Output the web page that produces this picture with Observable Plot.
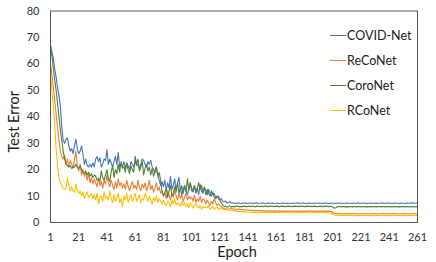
<!DOCTYPE html>
<html>
<head>
<meta charset="utf-8">
<script src="https://cdn.jsdelivr.net/npm/d3@7"></script>
<script src="https://cdn.jsdelivr.net/npm/@observablehq/plot@0.6"></script>
<style>
  html, body { margin: 0; padding: 0; background: #fff; }
  #wrap { position: relative; width: 436px; height: 262px; font-family: Lato, "Open Sans", sans-serif; }
  #legend { position: absolute; left: 330px; top: 23px; font-size: 12.5px; color: #222; }
  .row { display: flex; align-items: center; height: 25px; }
  .sw { width: 16px; height: 0; border-top: 1.3px solid; margin-right: 1px; }
</style>
</head>
<body>
<div id="wrap"><div id="legend"></div></div>
<script>
const seriesNames = ["COVID-Net", "ReCoNet", "CoroNet", "RCoNet"];
const seriesColors = ["#4472C4", "#ED7D31", "#548235", "#FFC000"];
const xTicks = [1, 21, 41, 61, 81, 101, 121, 141, 161, 181, 201, 221, 241, 261];
const yTicks = [0, 10, 20, 30, 40, 50, 60, 70, 80];

const covidNet = [
67,64.5,62,58,55,51,48,44,36,31,
30,31.5,32,29,27,28,26,29,31.5,28,
26,27,29,26,22,24,21.5,21,22,21,
22.5,21,24,25,23,24.5,21,22,24,23.5,
27.5,22,24,22.5,21,23,25,22,26.5,21,
22,21,23,20.5,22.5,21.5,20,23,22,21,
23,21.5,22,20.5,22,24,23.5,22,21,23,
22,23.5,21,20,19,21,18,16,14,15.5,
13.5,16,12,15,13,17.5,12.5,14,16.5,11.5,
15,17,12,14,11,13.5,12,10.5,13,15,
12,11.5,14,11,13,10.5,14.5,12,11,13.5,
10.5,12.5,11,10,12,10.5,11,9.5,10,9,
8.5,9,8,7.8,8.2,7.5,7.6,7.9,7.4,7.5,
7.3,7.4,7.2,7.5,7.3,7.2,7.4,7.3,7.5,7.2,
7.3,7.4,7.3,7.2,7.4,7.3,7.5,7.3,7.2,7.3,
7.4,7.3,7.2,7.3,7.4,7.3,7.3,7.5,7.2,7.3,
7.3,7.4,7.2,7.3,7.3,7.4,7.3,7.2,7.4,7.3,
7.2,7.3,7.4,7.3,7.3,7.5,7.2,7.3,7.3,7.4,
7.3,7.2,7.3,7.4,7.3,7.3,7.2,7.4,7.3,7.3,
7.4,7.3,7.2,7.3,7.3,7.5,7.3,7.2,7.3,7.4,
7.3,7.3,7.2,7.4,7.3,7.3,7.4,7.2,7.3,7.3,
7.4,7.3,7.3,7.2,7.3,7.4,7.3,7.3,7.5,7.2,
7.3,7.3,7.4,7.3,7.2,7.3,7.3,7.4,7.3,7.3,
7.2,7.4,7.3,7.3,7.3,7.5,7.2,7.3,7.3,7.4,
7.3,7.3,7.2,7.3,7.4,7.3,7.3,7.2,7.4,7.3,
7.3,7.2,7.3,7.4,7.3,7.3,7.5,7.3,7.3,7.4,7.4
];

const reCoNet = [
60,56,51,46,41,36,31,27,25,24,
25.5,22,24,21,23.5,22,20.5,24,27,21,
19.5,22,18,20,17.5,19,16,18.5,15,17,
14.5,16.5,15,13.5,17,14,15.5,13,16,14.5,
18,15,13.5,16,14,12.5,15.5,13,16.5,14,
15,13,14.5,12.5,16,13.5,12,14,15.5,13,
14,12.5,16,13,12,14.5,13,15,12,13.5,
16,12.5,14,11.5,13,15,12,13.5,11,12,
10,11.5,9,12,10.5,8.5,11,9.5,12.5,10,
8.5,11,9,10.5,8,9.5,11,8.5,10,9,
9.5,8,10.5,7.5,9,8,10,7.5,9,8.5,
7,8.5,7.5,6.5,8,7,9,7.5,6.5,7,
6.5,6,5.5,5,5.3,4.8,5.2,5,5.5,5.2,
5.0,5.1,4.9,5.0,5.1,4.8,4.9,4.8,4.7,4.8,
4.7,4.6,4.7,4.5,4.6,4.5,4.6,4.4,4.5,4.5,
4.4,4.5,4.4,4.3,4.4,4.3,4.4,4.3,4.3,4.4,
4.3,4.3,4.4,4.3,4.3,4.2,4.3,4.3,4.4,4.3,
4.3,4.2,4.3,4.3,4.4,4.3,4.2,4.3,4.3,4.3,
4.2,4.3,4.3,4.4,4.3,4.3,4.2,4.3,4.3,4.2,
4.3,4.3,4.2,4.3,4.3,4.2,4.3,4.2,4.2,4.1,
3.8,3.5,3.4,3.4,3.3,3.4,3.3,3.3,3.4,3.3,
3.3,3.4,3.3,3.3,3.3,3.4,3.3,3.3,3.2,3.3,
3.3,3.3,3.4,3.3,3.3,3.2,3.3,3.3,3.3,3.4,
3.3,3.3,3.2,3.3,3.3,3.3,3.4,3.3,3.3,3.3,
3.2,3.3,3.3,3.4,3.3,3.3,3.3,3.2,3.3,3.3,
3.3,3.4,3.3,3.3,3.2,3.3,3.3,3.3,3.4,3.3,3.3
];

const coroNet = [
67,63,58,54,50,45,40,35,31,27,
24,22,21.5,21,21.5,20.5,21,21,22,21,
20.5,21.5,20,19,18.5,19.5,18,19,17.5,18.5,
17,18,17.5,16,16.5,15.5,19.5,17,16,18,
20,16.5,15.5,19,21.5,17,20,18.5,22,19,
23,20.5,21,19,22.5,20,18.5,21.5,20,19,
25,22,24,19.5,21,23,18,20.5,22,19.5,
21,18,20.5,17.5,19,21,17.5,19,16,12,
10,11.5,13,9.5,12,14,10,11,13.5,12,
15,11,13,10.5,12.5,14,11.5,16.5,12,15,
13,12,14,11.5,13,15,12.5,14,11.5,13,
12,10.5,12.5,11,10,11.5,9.5,9,9.5,10,
8.5,7.5,6.5,6,6.2,5.8,6,6.3,5.9,6,
6.1,6.0,6.2,6.1,5.9,6.1,6.0,6.2,6.1,6.0,
6.1,6.2,6.0,6.1,6.1,5.9,6.1,6.2,6.0,6.1,
6.1,6.0,6.2,6.1,6.0,6.1,6.1,6.2,6.0,6.1,
6.2,6.1,6.0,6.1,6.2,6.1,6.0,6.1,6.1,6.2,
6.1,6.0,6.1,6.2,6.1,6.1,6.0,6.2,6.1,6.1,
6.0,6.1,6.2,6.1,6.1,6.0,6.1,6.2,6.1,6.0,
6.1,6.1,6.2,6.0,6.1,6.1,6.2,6.0,6.1,6.1,
5.8,5.4,5.6,5.9,6.0,6.1,5.9,6.0,6.0,5.9,
6.0,5.9,6.0,6.0,5.9,6.0,6.0,5.9,6.0,6.0,
5.9,6.0,6.0,5.9,6.0,5.9,6.0,6.0,5.9,6.0,
6.0,5.9,6.0,6.0,5.9,6.0,6.0,5.9,6.0,6.0,
5.9,6.0,6.0,5.9,6.0,6.0,5.9,6.0,5.9,6.0,
6.0,5.9,6.0,6.0,5.9,6.0,6.0,5.9,6.0,6.0,5.9
];

const rCoNet = [
56,50,44,36,28,21,17,15,14,13,
12.5,13,17,14,12,13.5,12,11.5,14.5,12,
11,12,10,11.5,9,10.5,11.5,9.5,10,11,
9,10.5,8.5,11,7,9.5,10,8,11.5,9,
10,8.5,12,9,7.5,10.5,8,9.5,11,7.5,
9,6,10,8.5,11,7.5,9,10.5,8,9.5,
11,8,9,10.5,7.5,9,8.5,11,9.5,8,
10,8.5,7,9.5,8,10,7.5,9,8,7,
8.5,7,6.5,8,7.5,6,8.5,7,9,6.5,
7.5,7,6,8,6.5,7.5,6,7,5.5,7.5,
6.5,5.5,6.5,7,6,5.5,6.5,5,6,5.5,
6,5.5,6.5,5,5.5,6,5,5.5,6,5,
5.3,5.5,5,5.2,4.8,5,4.7,4.9,4.6,4.5,
4.4,4.3,4.2,4.2,4.1,4.1,4.0,4.1,4.0,4.0,
3.9,4.0,3.9,3.9,3.8,3.9,3.8,3.8,3.9,3.8,
3.8,3.8,3.9,3.8,3.8,3.7,3.8,3.8,3.8,3.7,
3.8,3.8,3.7,3.8,3.8,3.8,3.7,3.8,3.8,3.7,
3.8,3.7,3.8,3.8,3.8,3.7,3.8,3.8,3.7,3.8,
3.8,3.7,3.8,3.8,3.7,3.8,3.8,3.7,3.8,3.8,
3.7,3.8,3.8,3.7,3.7,3.8,3.7,3.6,3.6,3.4,
3.1,2.9,2.8,2.8,2.7,2.7,2.8,2.7,2.7,2.7,
2.7,2.6,2.7,2.7,2.7,2.6,2.7,2.7,2.6,2.7,
2.7,2.7,2.6,2.7,2.7,2.7,2.6,2.7,2.7,2.7,
2.6,2.7,2.7,2.6,2.7,2.7,2.7,2.6,2.7,2.7,
2.7,2.6,2.7,2.7,2.7,2.6,2.7,2.7,2.6,2.7,
2.7,2.7,2.6,2.7,2.7,2.7,2.6,2.7,2.7,2.7,2.6
];

const seriesValues = [covidNet, reCoNet, coroNet, rCoNet];
const rows = [];
seriesNames.forEach((name, s) => {
  seriesValues[s].forEach((v, i) => rows.push({series: name, epoch: i + 1, error: v}));
});

const chart = Plot.plot({
  width: 436,
  height: 262,
  marginLeft: 50,
  marginRight: 19,
  marginTop: 10.5,
  marginBottom: 40,
  style: {fontFamily: "Lato, 'Open Sans', sans-serif", background: "#fff", color: "#333"},
  x: {domain: [1, 261]},
  y: {domain: [0, 80]},
  color: {domain: seriesNames, range: seriesColors},
  marks: [
    Plot.axisX({ticks: xTicks, tickSize: 0, tickPadding: 11, fontSize: 11, label: null, tickFormat: d => String(d)}),
    Plot.axisY({ticks: yTicks, tickSize: 0, tickPadding: 11, fontSize: 11, label: null}),
    Plot.lineY(rows, {x: "epoch", y: "error", z: "series", stroke: "series", strokeWidth: 1.1}),
    Plot.frame({stroke: "#595959", strokeWidth: 1}),
    Plot.text(["Epoch"], {frameAnchor: "bottom", lineAnchor: "middle", dx: 3, dy: 30, fontSize: 14.5, fill: "#222"}),
    Plot.text(["Test Error"], {frameAnchor: "left", textAnchor: "middle", lineAnchor: "middle", rotate: -90, dx: -36, dy: 5, fontSize: 14.5, fill: "#222"})
  ]
});
document.getElementById("wrap").prepend(chart);

const legend = document.getElementById("legend");
seriesNames.forEach((name, i) => {
  const row = document.createElement("div");
  row.className = "row";
  const sw = document.createElement("span");
  sw.className = "sw";
  sw.style.borderTopColor = seriesColors[i];
  const label = document.createElement("span");
  label.textContent = name;
  row.appendChild(sw);
  row.appendChild(label);
  legend.appendChild(row);
});
</script>
</body>
</html>
